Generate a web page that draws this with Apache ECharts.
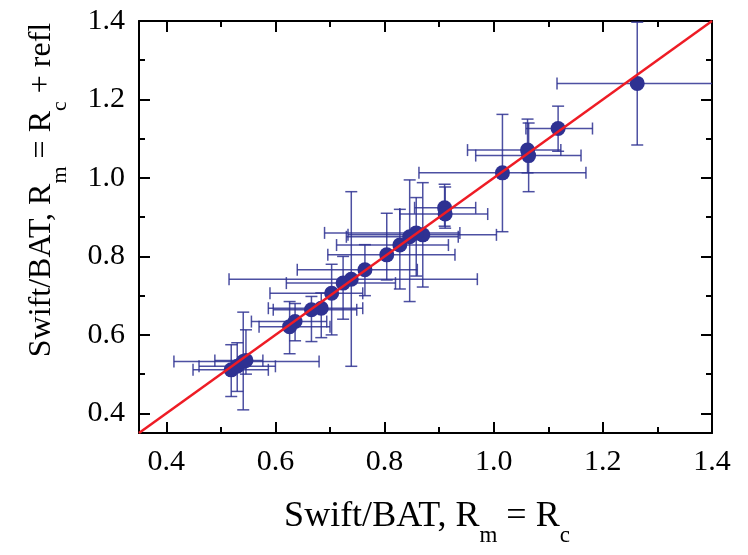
<!DOCTYPE html>
<html>
<head>
<meta charset="utf-8">
<script src="https://cdn.jsdelivr.net/npm/echarts@6/dist/echarts.min.js"></script>
<style>html,body{margin:0;padding:0;background:#fff}#c{width:748px;height:555px}</style>
</head>
<body>
<div id="c"></div>
<script>
// Data: Swift/BAT R (Rm = Rc) vs R (Rm = Rc + refl)
const xVals = [1.263, 1.118, 1.062, 1.064, 1.016, 0.910, 0.911, 0.870, 0.858, 0.846, 0.828, 0.804, 0.764, 0.739, 0.724, 0.703, 0.684, 0.666, 0.636, 0.626, 0.519, 0.530, 0.541, 0.546];
const yVals = [1.241, 1.126, 1.071, 1.057, 1.013, 0.924, 0.908, 0.855, 0.860, 0.850, 0.829, 0.804, 0.766, 0.742, 0.732, 0.706, 0.668, 0.664, 0.634, 0.621, 0.511, 0.520, 0.532, 0.535];
const xLow  = [1.116, 1.059, 0.952, 0.967, 0.863, 0.855, 0.828, 0.733, 0.690, 0.730, 0.712, 0.696, 0.640, 0.515, 0.620, 0.590, 0.587, 0.596, 0.556, 0.570, 0.449, 0.460, 0.414, 0.489];
const xHigh = [1.420, 1.181, 1.123, 1.160, 1.169, 0.967, 0.989, 1.005, 0.938, 0.935, 0.917, 0.929, 0.860, 0.970, 0.820, 0.760, 0.760, 0.749, 0.694, 0.700, 0.587, 0.600, 0.680, 0.577];
const yLow  = [1.084, 1.068, 1.013, 0.965, 0.863, 0.877, 0.872, 0.722, 0.750, 0.685, 0.717, 0.740, 0.700, 0.520, 0.640, 0.600, 0.593, 0.583, 0.585, 0.552, 0.443, 0.456, 0.409, 0.500];
const yHigh = [1.397, 1.183, 1.150, 1.140, 1.162, 0.984, 0.977, 0.988, 0.950, 0.995, 0.920, 0.910, 0.830, 0.965, 0.800, 0.780, 0.707, 0.698, 0.680, 0.685, 0.575, 0.580, 0.658, 0.613];

const axisMin = 0.35, axisMax = 1.4;
const majorTicks = [0.4, 0.6, 0.8, 1.0, 1.2, 1.4];
const minorTicks = [0.5, 0.7, 0.9, 1.1, 1.3];
const tickLabels = ['0.4', '0.6', '0.8', '1.0', '1.2', '1.4'];
const lineData = [[0.35, 0.35], [1.4, 1.4]];

const FONT = '"Liberation Serif", "Times New Roman", serif';
const BLUE = '#2e3192';

const points = xVals.map((x, i) => [x, yVals[i]]);
const errData = xVals.map((x, i) => [x, yVals[i], xLow[i], xHigh[i], yLow[i], yHigh[i]]);

function labelFmt(v) {
  const idx = majorTicks.findIndex(t => Math.abs(t - v) < 1e-6);
  return idx >= 0 ? tickLabels[idx] : '';
}

function mkAxis(pos, ticks, len, showLine, showLabel) {
  return {
    type: 'value', min: axisMin, max: axisMax, position: pos, gridIndex: 0,
    splitLine: { show: false },
    axisLine: { show: showLine, onZero: false, lineStyle: { color: '#000', width: 2 } },
    axisTick: { show: true, inside: true, length: len, customValues: ticks, lineStyle: { color: '#000', width: 2 } },
    axisLabel: showLabel ? {
      show: true, customValues: majorTicks, formatter: labelFmt,
      fontFamily: FONT, fontSize: 30, color: '#000', margin: 14
    } : { show: false }
  };
}

const chart = echarts.init(document.getElementById('c'), null, { renderer: 'canvas' });

function richFor(size, sub, drop) {
  return {
    a: { fontFamily: FONT, fontSize: size, color: '#000' },
    s: { fontFamily: FONT, fontSize: sub, color: '#000', padding: [drop, 0, 0, 0] }
  };
}

chart.setOption({
  animation: false,
  backgroundColor: '#fff',
  textStyle: { fontFamily: FONT },
  grid: { left: 139, right: 36, top: 21, bottom: 122, containLabel: false },
  xAxis: [
    mkAxis('bottom', majorTicks, 11, true, true),
    mkAxis('bottom', minorTicks, 6, false, false),
    mkAxis('top', majorTicks, 11, true, false),
    mkAxis('top', minorTicks, 6, false, false)
  ],
  yAxis: [
    mkAxis('left', majorTicks, 11, true, true),
    mkAxis('left', minorTicks, 6, false, false),
    mkAxis('right', majorTicks, 11, true, false),
    mkAxis('right', minorTicks, 6, false, false)
  ],
  series: [
    {
      type: 'custom', xAxisIndex: 0, yAxisIndex: 0, clip: true, z: 2,
      data: errData,
      renderItem: function (params, api) {
        const xl = api.coord([api.value(2), api.value(1)]);
        const xh = api.coord([api.value(3), api.value(1)]);
        const yl = api.coord([api.value(0), api.value(4)]);
        const yh = api.coord([api.value(0), api.value(5)]);
        const h = 6;
        const st = { stroke: BLUE, lineWidth: 1.5, opacity: 0.85 };
        const L = (x1, y1, x2, y2) => ({ type: 'line', shape: { x1, y1, x2, y2 }, style: st });
        return {
          type: 'group',
          children: [
            L(xl[0], xl[1], xh[0], xh[1]),
            L(yl[0], yl[1], yh[0], yh[1]),
            L(xl[0], xl[1] - h, xl[0], xl[1] + h),
            L(xh[0], xh[1] - h, xh[0], xh[1] + h),
            L(yl[0] - h, yl[1], yl[0] + h, yl[1]),
            L(yh[0] - h, yh[1], yh[0] + h, yh[1])
          ]
        };
      }
    },
    {
      type: 'scatter', xAxisIndex: 0, yAxisIndex: 0, z: 3,
      symbol: 'circle', symbolSize: 15,
      itemStyle: { color: BLUE, opacity: 1 },
      data: points
    },
    {
      type: 'line', xAxisIndex: 0, yAxisIndex: 0, z: 4,
      symbol: 'none', data: lineData,
      lineStyle: { color: '#ee1c25', width: 2.5 }
    }
  ],
  graphic: [
    {
      type: 'text', x: 427, y: 517,
      style: {
        text: '{a|Swift/BAT, R}{s|m}{a| = R}{s|c}', rich: richFor(36, 23, 38),
        align: 'center', verticalAlign: 'middle'
      }
    },
    {
      type: 'text', x: 42, y: 190, rotation: Math.PI / 2,
      style: {
        text: '{a|Swift/BAT, R}{s|m}{a| = R}{s|c}{a| + refl}', rich: richFor(32, 22, 36),
        align: 'center', verticalAlign: 'middle'
      }
    }
  ]
});
</script>
</body>
</html>
